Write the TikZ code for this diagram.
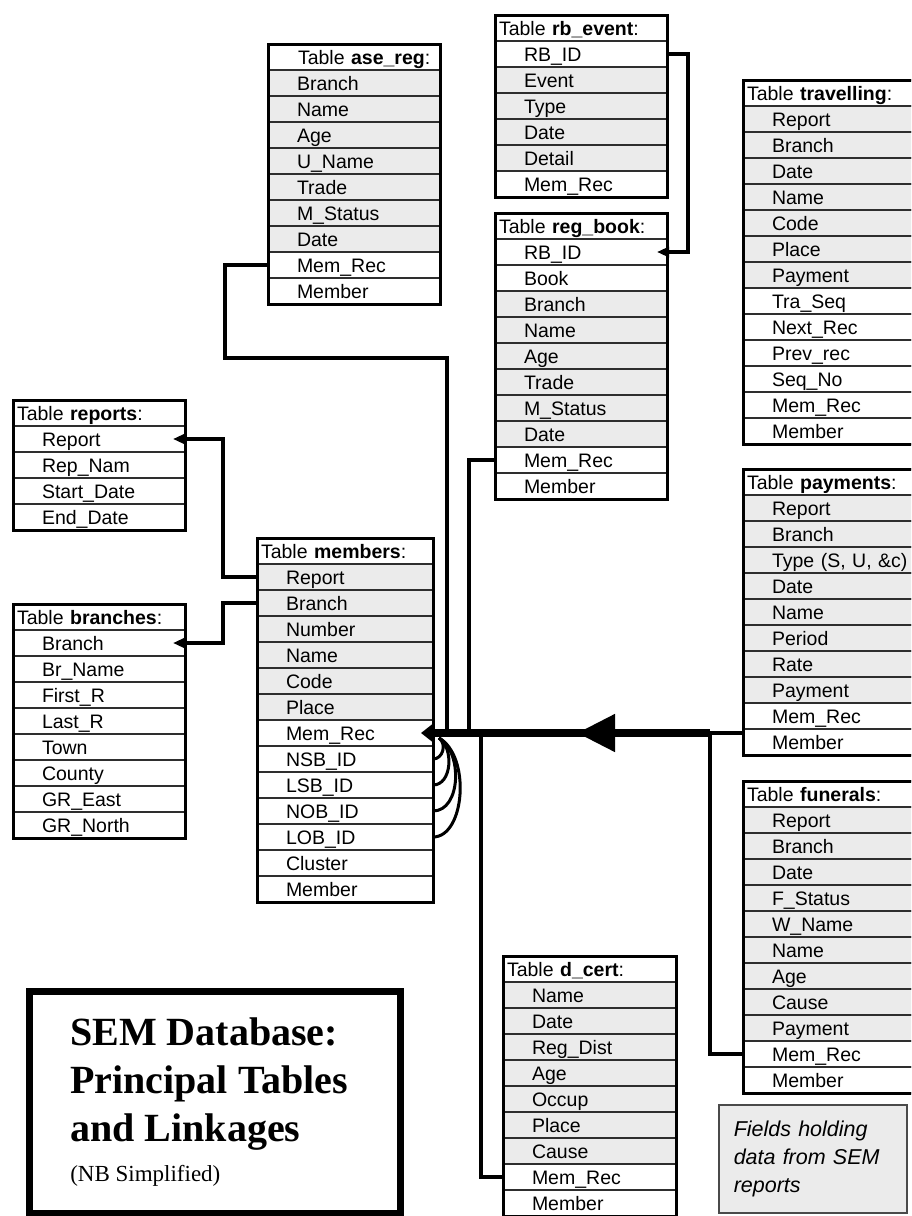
\documentclass[tikz,border=0pt]{standalone}
\usepackage{fontspec}
\setmainfont{Liberation Sans}
\newfontfamily\titleface{Liberation Serif}
\usetikzlibrary{arrows.meta,positioning,fit,decorations.markings}
\definecolor{SEMFill}{HTML}{EBEBEB}
\colorlet{sem}{SEMFill}
\colorlet{own}{white}
\definecolor{RuleInk}{HTML}{2E2E2E}
\definecolor{LegendEdge}{HTML}{4A4A4A}
\tikzset{
  tabrow/.style={draw=RuleInk,line width=1.3pt,inner sep=0pt,outer sep=0pt,
                 minimum height=26pt,text height=20pt,text depth=6pt,align=left,
                 font=\fontsize{19.5}{23}\selectfont},
  tabframe/.style={draw=black,line width=3pt,inner sep=0pt,outer sep=0pt},
  link/.style={line width=4pt},
  linkto/.style={link,-{Triangle[length=12pt,width=10pt]}},
  bus/.style={line width=8pt,-{Triangle[length=12pt,width=18pt]},
              decoration={markings,mark=at position 0.46 with {\arrow{Triangle[length=38pt,width=36pt]}}},
              postaction={decorate}},
  selfref/.style={line width=3pt},
  titlebox/.style={draw=black,line width=6.5pt,anchor=north west,minimum width=371pt,
                   minimum height=222pt,inner xsep=41pt,text width=289pt,align=left,
                   font=\titleface\fontsize{40}{48}\selectfont},
  legendbox/.style={draw=LegendEdge,line width=1.5pt,fill=SEMFill,anchor=north west,
                    minimum width=188pt,minimum height=108pt,inner xsep=15pt,text width=158pt,
                    align=left,font=\fontsize{21.5}{28}\selectfont\itshape},
}
\newcommand{\dbtable}[7]{%
  \node[tabrow,text width=#4,fill=white,anchor=north west] (#1-0) at (#2,#3) {\hspace*{#5}Table \textbf{#6}:};
  \foreach \tone/\fname [count=\i,remember=\i as \j (initially 0)] in {#7} {
    \node[tabrow,text width=#4,fill=\tone,below=0pt of #1-\j] (#1-\i) {\hspace*{29pt}\fname};
    \xdef\dblast{\i}
  }
  \node[tabframe,fit=(#1-0)(#1-\dblast)] (#1) {};
}

\begin{document}
\begin{tikzpicture}[x=1pt,y=-1pt]
  \path[use as bounding box,fill=white] (0,0) rectangle (911,1216);
  \clip (0,0) rectangle (911,1216);

  \dbtable{ase}{268}{44}{172pt}{30pt}{ase\_reg}{sem/Branch,sem/Name,sem/Age,sem/U\_Name,sem/Trade,sem/M\_Status,sem/Date,own/Mem\_Rec,own/Member}
  \dbtable{rb}{495}{15}{172pt}{4pt}{rb\_event}{own/RB\_ID,sem/Event,sem/Type,sem/Date,sem/Detail,own/Mem\_Rec}
  \dbtable{reg}{495}{213}{172pt}{4pt}{reg\_book}{own/RB\_ID,own/Book,sem/Branch,sem/Name,sem/Age,sem/Trade,sem/M\_Status,sem/Date,own/Mem\_Rec,own/Member}
  \dbtable{trav}{743}{80}{172pt}{4pt}{travelling}{sem/Report,sem/Branch,sem/Date,sem/Name,sem/Code,sem/Place,sem/Payment,own/Tra\_Seq,own/Next\_Rec,own/Prev\_rec,own/Seq\_No,own/Mem\_Rec,own/Member}
  \dbtable{rep}{13}{400}{172pt}{4pt}{reports}{own/Report,own/Rep\_Nam,own/Start\_Date,own/End\_Date}
  \dbtable{br}{13}{604}{172pt}{4pt}{branches}{own/Branch,own/Br\_Name,own/First\_R,own/Last\_R,own/Town,own/County,own/GR\_East,own/GR\_North}
  \dbtable{members}{257}{538}{176pt}{4pt}{members}{sem/Report,sem/Branch,sem/Number,sem/Name,sem/Code,sem/Place,own/Mem\_Rec,own/NSB\_ID,own/LSB\_ID,own/NOB\_ID,own/LOB\_ID,own/Cluster,own/Member}
  \dbtable{pay}{743}{469}{172pt}{4pt}{payments}{sem/Report,sem/Branch,sem/{Type (S, U, \&c)},sem/Date,sem/Name,sem/Period,sem/Rate,sem/Payment,own/Mem\_Rec,own/Member}
  \dbtable{fun}{743}{781}{172pt}{4pt}{funerals}{sem/Report,sem/Branch,sem/Date,sem/F\_Status,sem/W\_Name,sem/Name,sem/Age,sem/Cause,sem/Payment,own/Mem\_Rec,own/Member}
  \dbtable{dc}{503}{956}{173pt}{4pt}{d\_cert}{sem/Name,sem/Date,sem/Reg\_Dist,sem/Age,sem/Occup,sem/Place,sem/Cause,own/Mem\_Rec,own/Member}

  \coordinate (busR) at ([xshift=277pt]members-7.east);
  \coordinate (busA) at ([xshift=14pt]members-7.east);
  \coordinate (busB) at ([xshift=36pt]members-7.east);
  \coordinate (busC) at ([xshift=48pt]members-7.east);
  \coordinate (selfRef) at ([xshift=6pt,yshift=-5pt]members-7.east);

  \draw[link] (ase-8.west) -- ++(-43,0) -- ++(0,93) -| (busA);
  \draw[link] (reg-9.west) -| (busB);
  \draw[link] (dc-8.west) -| (busC);
  \draw[link] (fun-10.west) -| (busR);
  \draw[link] (members-7.east -| pay.west) -- (busR);
  \draw[bus] (busR) -- ([xshift=-12pt]members-7.east);
  \draw[linkto] (rb-1.east) -- ++(21,0) |- ([xshift=-10pt]reg-1.east);
  \draw[linkto] (members-1.west) -- ++(-34,0) |- ([xshift=-12pt]rep-1.east);
  \draw[linkto] (members-2.west) -- ++(-34,0) |- ([xshift=-12pt]br-1.east);

  \draw[selfref] (selfRef) .. controls +(8,6) and +(10,0) .. (members-8.east);
  \draw[selfref] (selfRef) .. controls +(15,10) and +(19,0) .. (members-9.east);
  \draw[selfref] (selfRef) .. controls +(24,14) and +(28,0) .. (members-10.east);
  \draw[selfref] (selfRef) .. controls +(32,18) and +(32,0) .. (members-11.east);

  \node[titlebox] (title) at (26,988) {\spaceskip=0pt
    {\bfseries SEM Database:\\Principal Tables\\and Linkages\par}
    \vspace{12pt}{\fontsize{23}{28}\selectfont\spaceskip=0pt (NB Simplified)\par}};
  \node[legendbox] (legend) at (718,1104) {Fields holding\\data from SEM\\reports};
\end{tikzpicture}
\end{document}
